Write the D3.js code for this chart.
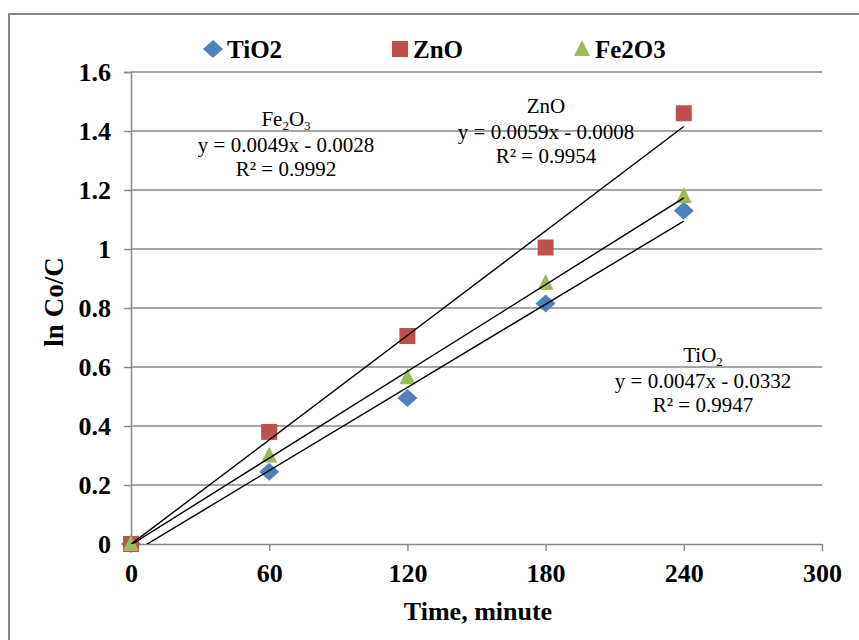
<!DOCTYPE html>
<html><head><meta charset="utf-8">
<script src="https://cdn.jsdelivr.net/npm/d3@7"></script>
<style>body{margin:0;background:#fff}svg{display:block}</style>
</head><body><svg id="c" width="859" height="640"></svg>
<script>
const times = [0, 60, 120, 180, 240];
const tio2 = [0, 0.245, 0.495, 0.815, 1.13];
const zno = [0, 0.38, 0.705, 1.005, 1.46];
const fe2o3 = [0, 0.30, 0.565, 0.885, 1.18];
const seriesNames = ["TiO2", "ZnO", "Fe2O3"];
const seriesColors = ["#4F81BD", "#C0504D", "#9BBB59"];
const fitSlopes = [0.0047, 0.0059, 0.0049];
const fitIntercepts = [-0.0332, -0.0008, -0.0028];
const fitNames = [
  [["TiO", false], ["2", true]],
  [["ZnO", false]],
  [["Fe", false], ["2", true], ["O", false], ["3", true]]
];
const fitEqs = ["y = 0.0047x - 0.0332", "y = 0.0059x - 0.0008", "y = 0.0049x - 0.0028"];
const fitR2 = ["R² = 0.9947", "R² = 0.9954", "R² = 0.9992"];
const xTicks = [0, 60, 120, 180, 240, 300];
const yTicks = [0, 0.2, 0.4, 0.6, 0.8, 1, 1.2, 1.4, 1.6];

const FONT = "font-family:'Liberation Serif','Times New Roman',Tinos,serif";
const svg = d3.select("#c");
const x = d3.scaleLinear().domain([0, 300]).range([131, 822]);
const y = d3.scaleLinear().domain([0, 1.6]).range([544, 72]);
const grid = "#888888";

// outer frame
svg.append("path").attr("d", "M9,640 V14 H859").attr("fill", "none").attr("stroke", grid).attr("stroke-width", 2);

// gridlines
svg.append("g").selectAll("line").data(yTicks.filter(d => d > 0)).join("line")
  .attr("x1", x(0)).attr("x2", x(300)).attr("y1", d => y(d)).attr("y2", d => y(d))
  .attr("stroke", grid).attr("stroke-width", 1.5);

// axes
const yAxis = d3.axisLeft(y).tickValues(yTicks).tickSize(7).tickFormat(d => String(+d.toFixed(1)));
const gy = svg.append("g").attr("transform", `translate(${x(0)},0)`).call(yAxis);
gy.select(".domain").attr("stroke", grid).attr("stroke-width", 1.5);
gy.selectAll(".tick line").attr("stroke", grid).attr("stroke-width", 1.5);
gy.selectAll(".tick text").attr("style", FONT + ";font-size:26px;font-weight:bold").attr("fill", "#000")
  .attr("x", -20).attr("dy", "0.34em");

const xAxis = d3.axisBottom(x).tickValues(xTicks).tickSize(7).tickSizeOuter(0);
const gx = svg.append("g").attr("transform", `translate(0,${y(0)})`).call(xAxis);
gx.select(".domain").attr("stroke", grid).attr("stroke-width", 1.5);
gx.selectAll(".tick line").attr("stroke", grid).attr("stroke-width", 1.5);
gx.selectAll(".tick text").attr("style", FONT + ";font-size:26px;font-weight:bold").attr("fill", "#000")
  .attr("y", 38).attr("dy", 0);

// axis titles
svg.append("text").attr("x", 478).attr("y", 620).attr("text-anchor", "middle")
  .attr("style", FONT + ";font-size:26px;font-weight:bold").text("Time, minute");
svg.append("text").attr("transform", "translate(63,302) rotate(-90)").attr("text-anchor", "middle")
  .attr("style", FONT + ";font-size:27px;font-weight:bold").text("ln Co/C");

// markers
const allSeries = [tio2, zno, fe2o3];
const shapes = [
  (cx, cy) => `M${cx},${cy-9}L${cx+10},${cy}L${cx},${cy+9}L${cx-10},${cy}Z`,
  (cx, cy) => `M${cx-8},${cy-8}h16v16h-16Z`,
  (cx, cy) => `M${cx},${cy-9}L${cx+8},${cy+7}L${cx-8},${cy+7}Z`
];
allSeries.forEach((vals, i) => {
  svg.append("g").selectAll("path").data(times.map((t, k) => [t, vals[k]])).join("path")
    .attr("d", d => shapes[i](x(d[0]), y(d[1])))
    .attr("fill", seriesColors[i]);
});

// trendlines clipped to plot area
svg.append("clipPath").attr("id", "plot").append("rect")
  .attr("x", x(0)).attr("y", y(1.6)).attr("width", x(300) - x(0)).attr("height", y(0) - y(1.6));
const lineGen = d3.line().x(d => x(d[0])).y(d => y(d[1]));
fitSlopes.forEach((m, i) => {
  svg.append("path").attr("clip-path", "url(#plot)")
    .attr("d", lineGen([[0, fitIntercepts[i]], [240, m * 240 + fitIntercepts[i]]]))
    .attr("fill", "none").attr("stroke", "#000").attr("stroke-width", 1.4);
});

// trendline labels
const labelPos = [[703, 362], [546, 113], [286, 126]];
fitNames.forEach((parts, i) => {
  const [cx, by] = labelPos[i];
  const t = svg.append("text").attr("x", cx).attr("y", by).attr("text-anchor", "middle")
    .attr("style", FONT + ";font-size:21px");
  let shifted = false;
  parts.forEach(([txt, sub]) => {
    const dy = sub ? (shifted ? 0 : 4) : (shifted ? -4 : 0);
    shifted = sub;
    t.append("tspan").attr("style", FONT + ";font-size:" + (sub ? 13 : 21) + "px").attr("dy", dy).text(txt);
  });
  svg.append("text").attr("x", cx).attr("y", by + 26).attr("text-anchor", "middle")
    .attr("style", FONT + ";font-size:21px").text(fitEqs[i]);
  svg.append("text").attr("x", cx).attr("y", by + 50).attr("text-anchor", "middle")
    .attr("style", FONT + ";font-size:21px").text(fitR2[i]);
});

// legend
const legX = [213, 400, 582];
const textX = [227, 413, 595];
seriesNames.forEach((n, i) => {
  svg.append("path").attr("d", shapes[i](legX[i], 49)).attr("fill", seriesColors[i]);
  svg.append("text").attr("x", textX[i]).attr("y", 58)
    .attr("style", FONT + ";font-size:25px;font-weight:bold").text(n);
});
</script></body></html>
